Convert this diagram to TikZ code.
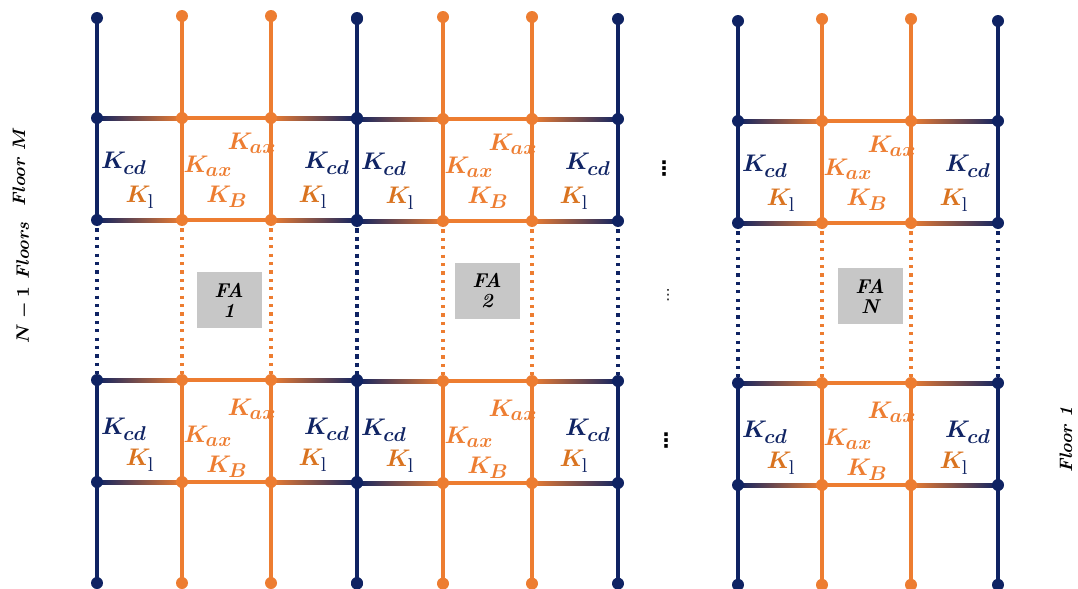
\documentclass[tikz,border=0pt]{standalone}
\usepackage{amsmath}
\usepackage{amssymb}
\usepackage{fontspec}
\usepackage{tikz}
\usetikzlibrary{calc}
\newfontfamily\symfont{DejaVu Sans}
\definecolor{navy}{HTML}{0F2363}
\definecolor{org}{HTML}{ED7D31}
\definecolor{korg}{HTML}{D9731F}
% stiffness label with a large subscript
\newcommand{\stiff}[1]{$\boldsymbol{K}_{\!\text{\normalsize$\boldsymbol{#1}$}}$}
\newcommand{\stiffl}{${\color{korg}\boldsymbol{K}}_{\!\text{\normalsize\color{navy}$\mathrm{l}$}}$}

\begin{document}
\begin{tikzpicture}[
  x=0.5pt,y=-0.5pt,font=\large,
  col/.style={line width=2pt},
  dotcol/.style={line width=1.6pt,dash pattern=on 1.6pt off 2.6pt},
  jdot/.style={circle,fill=#1,inner sep=0pt,minimum size=6pt},
  fabox/.style={fill=black!22,minimum width=32.5pt,minimum height=28pt,
                align=center,font=\normalsize\bfseries\itshape,inner sep=1pt},
  flr/.style={rotate=90,font=\small\bfseries\itshape},
  skip/.style={inner sep=0pt,font=\symfont\bfseries\normalsize},
]
  \useasboundingbox (0,0) rectangle (1078,589);

  % frame assemblies: columns x, vertical shift, label, box centre
  \foreach \f/\xa/\xb/\xc/\xd/\dy/\lab/\bx/\by in
    {1/97/182/271/357/0/1/229/300, 2/357/443/532/618/1/2/487/291,
     3/738/822/911/998/3/N/870/296}{
    \foreach \c/\x/\top in {1/\xa/18,2/\xb/16,3/\xc/16,4/\xd/18}{
      \coordinate (t\f-\c) at (\x,\top+\dy);
      \coordinate (b\f-\c) at (\x,583+\dy*0.6);
      \foreach \r/\y in {1/118,2/220,3/380,4/482}
        \coordinate (j\f-\c-\r) at (\x,\y+\dy);
    }
    % columns
    \foreach \c/\cc in {1/navy,2/org,3/org,4/navy}{
      \draw[col,\cc] (t\f-\c) -- (j\f-\c-1) -- (j\f-\c-2);
      \draw[dotcol,\cc] (j\f-\c-2) -- (j\f-\c-3);
      \draw[col,\cc] (j\f-\c-3) -- (j\f-\c-4) -- (b\f-\c);
    }
    % beams
    \foreach \r in {1,...,4}{
      \shade[left color=navy,right color=org]
        ($(j\f-1-\r)+(0,-2)$) rectangle ($(j\f-2-\r)+(0,2)$);
      \draw[col,org] (j\f-2-\r) -- (j\f-3-\r);
      \shade[left color=org,right color=navy]
        ($(j\f-3-\r)+(0,-2)$) rectangle ($(j\f-4-\r)+(0,2)$);
    }
    % joints
    \foreach \c/\cc in {1/navy,2/org,3/org,4/navy}{
      \node[jdot=\cc] at (t\f-\c) {};
      \node[jdot=\cc] at (b\f-\c) {};
      \foreach \r in {1,...,4}
        \node[jdot=\cc] at (j\f-\c-\r) {};
    }
    % springs
    \foreach \r/\k in {1/0,3/4}{
      \node[navy] (kcl\f-\r) at ($(j\f-1-\r)+(27,45+\k)$) {\stiff{cd}};
      \node (kll\f-\r) at ($(j\f-1-\r)+(43,79+\k*0.3)$) {\stiffl};
      \node[org] (kal\f-\r) at ($(j\f-2-\r)+(26,48+\k*2)$) {\stiff{ax}};
      \node[org] (kar\f-\r) at ($(j\f-3-\r)+(-19,25+\k)$) {\stiff{ax}};
      \node[org] (kb\f-\r) at ($(j\f-2-\r)+(45,79+\k*2)$) {\stiff{B}};
      \node[navy] (kcr\f-\r) at ($(j\f-4-\r)+(-30,45+\k)$) {\stiff{cd}};
      \node (klr\f-\r) at ($(j\f-4-\r)+(-44,79+\k*0.3)$) {\stiffl};
    }
    \node[fabox] (fa\f) at (\bx,\by) {FA\\[-2pt]\lab};
  }

  % skipped assemblies
  \node[skip] (vd1) at (664,169) {⋮};
  \node[skip,font=\symfont\scriptsize] (vd2) at (668,295) {⋮};
  \node[skip] (vd3) at (666,441) {⋮};

  % floor labels
  \node[flr] (flm) at (19,167) {Floor $\boldsymbol{M}$};
  \node[flr] (fln) at (24,283) {$\boldsymbol{N-1}$ Floors};
  \node[flr] (fl1) at (1066,440) {Floor 1};
\end{tikzpicture}
\end{document}
